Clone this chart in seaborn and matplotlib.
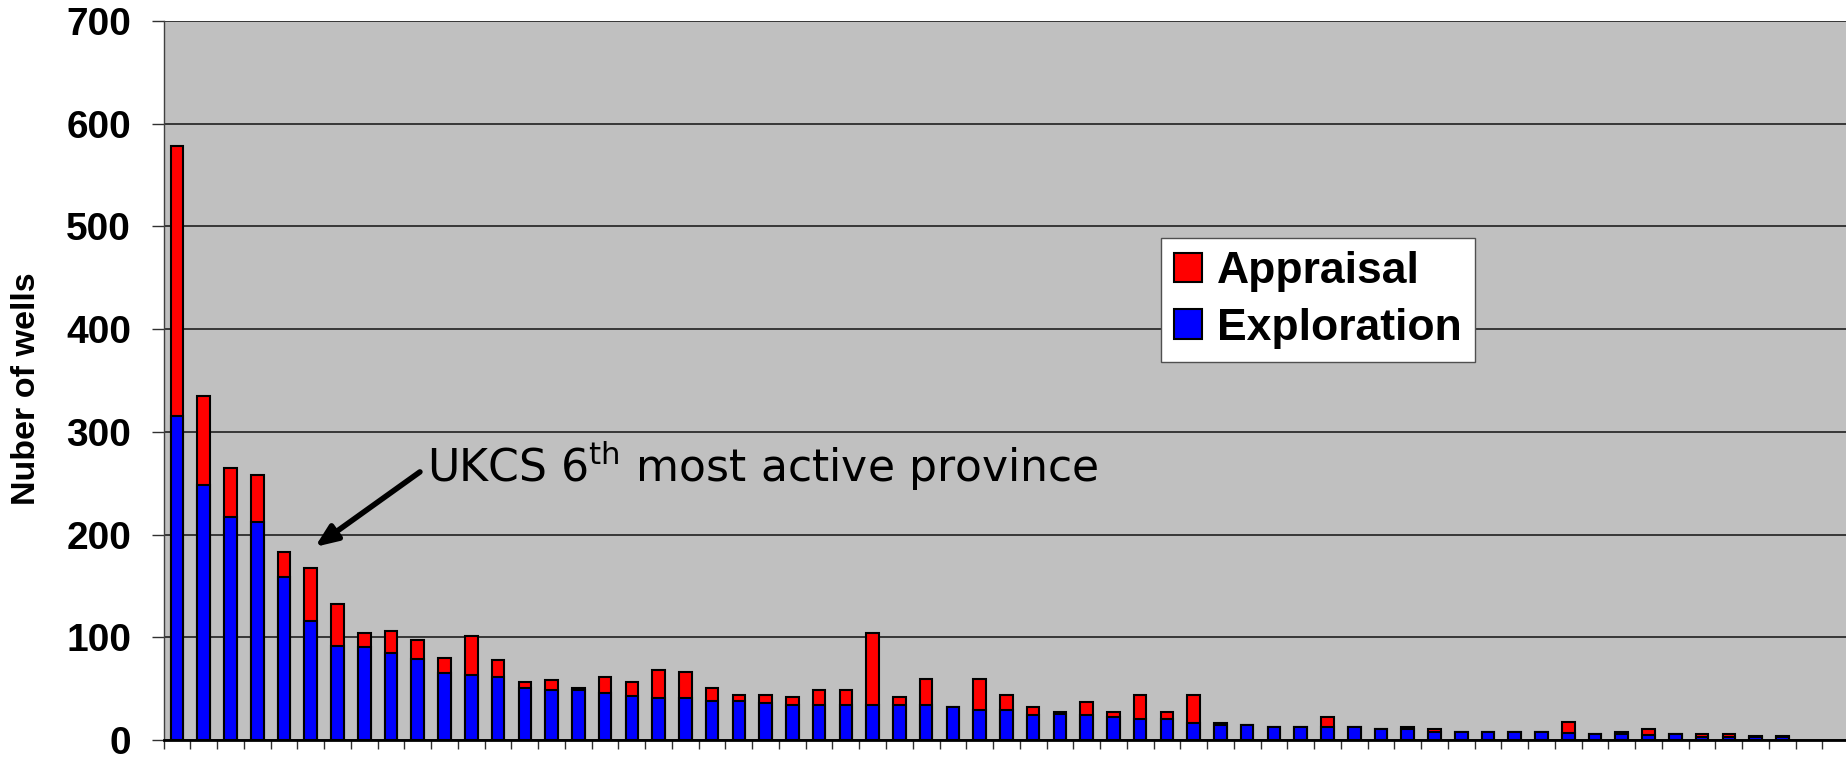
import numpy as np
import pandas as pd
import matplotlib
matplotlib.use("Agg")
import matplotlib.pyplot as plt
import seaborn as sns

# ---- data ----
provinces = [str(i) for i in range(1, 62)]
exploration = [315, 248, 217, 212, 159, 116, 92, 91, 85, 79,
               65, 63, 61, 51, 49, 49, 46, 43, 41, 41,
               38, 38, 36, 34, 34, 34, 34, 34, 34, 32,
               29, 29, 24, 25, 24, 22, 20, 20, 17, 15,
               15, 13, 13, 13, 13, 11, 11, 8, 8, 8,
               8, 8, 7, 6, 6, 5, 6, 3, 3, 3, 3]
appraisal = [263, 87, 48, 46, 24, 51, 40, 13, 21, 18,
             15, 38, 17, 5, 9, 2, 15, 13, 27, 25,
             13, 6, 8, 8, 15, 15, 70, 8, 25, 0,
             30, 15, 8, 2, 13, 5, 24, 7, 27, 2,
             0, 0, 0, 9, 0, 0, 2, 3, 0, 0,
             0, 0, 11, 0, 2, 6, 0, 3, 3, 1, 1]
y_ticks = [0, 100, 200, 300, 400, 500, 600, 700]
y_label = "Nuber of wells"
legend_labels = ["Appraisal", "Exploration"]
annotation = "UKCS 6$^{\\mathrm{th}}$ most active province"

df = pd.DataFrame({"province": provinces,
                   "Exploration": exploration,
                   "Appraisal": appraisal})
df["Total"] = df["Exploration"] + df["Appraisal"]

sns.set_theme(style="white")
plt.rcParams["font.family"] = ["Liberation Sans", "DejaVu Sans"]
plt.rcParams["text.color"] = "black"
plt.rcParams["axes.labelcolor"] = "black"
plt.rcParams["xtick.color"] = "black"
plt.rcParams["ytick.color"] = "black"
plt.rcParams["mathtext.fontset"] = "custom"
plt.rcParams["mathtext.rm"] = "DejaVu Sans"
plt.rcParams["mathtext.it"] = "DejaVu Sans"

W, H = 1846, 757
fig = plt.figure(figsize=(W / 100, H / 100), dpi=100)
left_px, bottom_px, top_px = 163.6, 740, 21
ax = fig.add_axes([left_px / W, 1 - bottom_px / H, 1 - left_px / W,
                   (bottom_px - top_px) / H])
ax.set_facecolor("#C0C0C0")

bw = 0.47
sns.barplot(data=df, x="province", y="Total", color="#FF0000", saturation=1,
            edgecolor="black", linewidth=1.5, width=bw, ax=ax,
            label=legend_labels[0], zorder=3)
sns.barplot(data=df, x="province", y="Exploration", color="#0000FF",
            saturation=1, edgecolor="black", linewidth=1.5, width=bw, ax=ax,
            label=legend_labels[1], zorder=3)

ax.set_xlim(-0.5, 62.38)
ax.set_ylim(0, 700)
ax.set_xlabel("")
ax.set_ylabel(y_label, fontsize=24.5, fontweight="bold", color="black")
ax.yaxis.set_label_coords(-0.072, 0.489)

ax.set_yticks(y_ticks)
ax.set_yticklabels([str(v) for v in y_ticks], fontsize=28,
                   fontweight="bold", color="black")
ax.set_xticks(np.arange(-0.5, 62, 1.0))
ax.set_xticklabels([])
ax.tick_params(axis="y", direction="out", length=8.4, width=1.0,
               color="#303030", pad=15, left=True)
ax.tick_params(axis="x", direction="out", length=6.7, width=1.0,
               color="#303030", bottom=True)

ax.set_axisbelow(True)
ax.yaxis.grid(True, color="#202020", linewidth=1.2)
ax.xaxis.grid(False)
for s in ["top", "right"]:
    ax.spines[s].set_visible(False)
ax.spines["left"].set_color("#404040")
ax.spines["left"].set_linewidth(1.0)
ax.spines["bottom"].set_color("black")
ax.spines["bottom"].set_linewidth(2.0)

# annotation with arrow
ax.annotate("", xy=(5.16, 188), xytext=(9.08, 261),
            arrowprops=dict(arrowstyle="-|>,head_length=1.1,head_width=0.45",
                            color="black", lw=4, shrinkA=0, shrinkB=0),
            zorder=5)
ax.text(9.34, 251, annotation, fontsize=31.8, family="DejaVu Sans",
        color="black", ha="left", va="baseline", zorder=5)

leg = ax.legend(loc="upper left",
                bbox_to_anchor=(1160.7 / W, 1 - 237.7 / H),
                bbox_transform=fig.transFigure,
                prop={"family": "Liberation Sans", "weight": "bold",
                      "size": 32},
                frameon=True, fancybox=False, framealpha=1,
                facecolor="white", edgecolor="#505050",
                borderpad=0.3, handlelength=0.63, handleheight=0.63,
                handletextpad=0.34, labelspacing=0.35, borderaxespad=0)
leg.get_frame().set_linewidth(1.0)
for t in leg.get_texts():
    t.set_color("black")

fig.savefig("out.png", dpi=100)
